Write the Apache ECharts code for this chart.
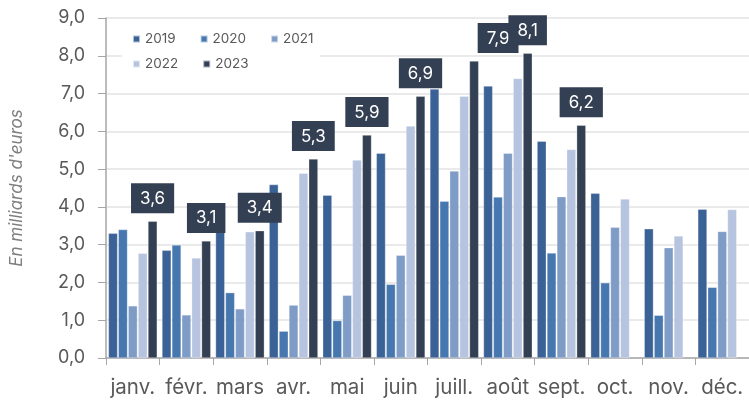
<!DOCTYPE html>
<html>
<head>
<meta charset="utf-8">
<script src="https://cdn.jsdelivr.net/npm/echarts@6/dist/echarts.min.js"></script>
<style>
  html, body { margin: 0; padding: 0; background: #fff; }
  #main { width: 749px; height: 405px; }
</style>
</head>
<body>
<div id="main"></div>
<script>
var months = ['janv.', 'févr.', 'mars', 'avr.', 'mai', 'juin', 'juill.', 'août', 'sept.', 'oct.', 'nov.', 'déc.'];
var years = ['2019', '2020', '2021', '2022', '2023'];
var v2019 = [3.30, 2.85, 3.50, 4.59, 4.31, 5.42, 7.12, 7.20, 5.74, 4.36, 3.42, 3.94];
var v2020 = [3.40, 2.99, 1.73, 0.71, 0.99, 1.95, 4.15, 4.26, 2.78, 1.99, 1.13, 1.87];
var v2021 = [1.38, 1.14, 1.30, 1.40, 1.66, 2.72, 4.95, 5.42, 4.27, 3.46, 2.92, 3.35];
var v2022 = [2.77, 2.65, 3.34, 4.89, 5.24, 6.14, 6.93, 7.40, 5.52, 4.21, 3.23, 3.93];
var v2023 = [3.62, 3.10, 3.37, 5.27, 5.90, 6.93, 7.86, 8.07, 6.16, null, null, null];

var colors = ['#3b6296', '#4677af', '#7f9cc7', '#b6c4df', '#333f53'];
var grey = '#595959';
var font = 'Inter';

function fmt(v) { return v.toFixed(1).replace('.', ','); }

var seriesValues = [v2019, v2020, v2021, v2022, v2023];

var series = years.map(function (y, i) {
  var s = {
    name: y,
    type: 'bar',
    data: seriesValues[i],
    barGap: '8%',
    barCategoryGap: '9%',
    itemStyle: { color: colors[i], borderColor: 'rgba(255,255,255,0.6)', borderWidth: 0.5 }
  };
  if (i === 4) {
    s.data = seriesValues[i].map(function (v, k) {
      var item = { value: v };
      // the juill. label is pushed right in the original so it clears the août one
      if (k === 6) item.label = { offset: [24, 0] };
      return item;
    });
    s.label = {
      show: true,
      position: 'top',
      distance: 8,
      backgroundColor: '#333f53',
      color: '#fff',
      fontFamily: font,
      fontSize: 17,
      padding: [7, 9, 6, 9],
      formatter: function (p) { return fmt(p.value); }
    };
  }
  return s;
});

var myChart = echarts.init(document.getElementById('main'));
var option = {
  backgroundColor: '#fff',
  animation: false,
  grid: { left: 100, right: 0, top: 18, bottom: 47 },
  graphic: [{
    type: 'rect', left: 122, top: 22, z: 3,
    shape: { width: 198, height: 52 },
    style: { fill: '#fff' }
  }],
  legend: [
    {
      data: ['2019', '2020', '2021'],
      left: 127, top: 27, z: 5,
      itemWidth: 7, itemHeight: 7, itemGap: 24, icon: 'rect',
      textStyle: { color: grey, fontSize: 13.5, fontFamily: font }
    },
    {
      data: ['2022', '2023'],
      left: 127, top: 52, z: 5,
      itemWidth: 7, itemHeight: 7, itemGap: 24, icon: 'rect',
      textStyle: { color: grey, fontSize: 13.5, fontFamily: font }
    }
  ],
  xAxis: {
    type: 'category',
    data: months,
    axisLine: { lineStyle: { color: '#a6a6a6', width: 1.5 } },
    axisTick: { show: true, length: 7, lineStyle: { color: '#a6a6a6' } },
    axisLabel: { color: grey, fontSize: 20.5, fontFamily: font, margin: 19, interval: 0 }
  },
  yAxis: {
    type: 'value',
    min: 0, max: 9, interval: 1,
    name: "En milliards d'euros",
    nameLocation: 'middle',
    nameGap: 81,
    nameRotate: 90,
    nameTextStyle: { color: '#7f7f7f', fontSize: 17, fontStyle: 'italic', fontFamily: font },
    axisLine: { show: true, lineStyle: { color: '#a6a6a6', width: 1.5 } },
    axisTick: { show: true, length: 8, lineStyle: { color: '#a6a6a6' } },
    axisLabel: { color: grey, fontSize: 18, fontFamily: font, margin: 21, formatter: fmt },
    splitLine: { lineStyle: { color: '#e3e3e3', width: 1.5 } }
  },
  series: series
};
myChart.setOption(option);

window.addEventListener('resize', function () {
  myChart.resize();
});
</script>
</body>
</html>
